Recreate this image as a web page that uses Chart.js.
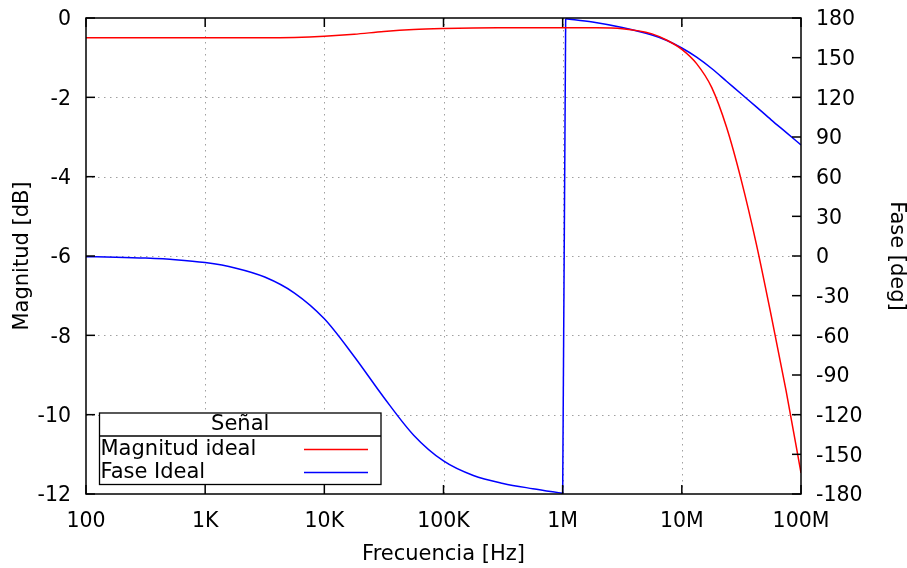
<!DOCTYPE html>
<html>
<head>
<meta charset="utf-8">
<script src="https://cdn.jsdelivr.net/npm/chart.js@4"></script>
<style>
  html, body { margin: 0; padding: 0; background: #ffffff; }
  #wrap { width: 907px; height: 568px; }
</style>
</head>
<body>
<div id="wrap"><canvas id="bode" width="907" height="568"></canvas></div>
<script>
// Respuesta en frecuencia del filtro (muestras en Hz)
const frecuencias = [
  100, 178, 316, 562,
  1e3, 1.78e3, 3.16e3, 5.62e3,
  1e4, 1.78e4, 3.16e4, 5.62e4,
  1e5, 1.78e5, 3.16e5, 5.62e5,
  1e6, 1.06e6, 1.78e6, 3.16e6, 5.62e6, 7.5e6,
  1e7, 1.33e7, 1.78e7, 2.37e7, 3.16e7, 4.22e7, 5.62e7, 7.5e7,
  1e8
];

// Magnitud [dB]
const magnitudIdeal = [
  -0.5, -0.5, -0.5, -0.5,
  -0.5, -0.5, -0.5, -0.49,
  -0.46, -0.41, -0.34, -0.29,
  -0.265, -0.252, -0.247, -0.245,
  -0.245, -0.245, -0.247, -0.27, -0.4, -0.56,
  -0.79, -1.15, -1.75, -2.75, -4.1, -5.7, -7.5, -9.4,
  -11.47
];

// Fase [deg], envuelta en (-180, 180]
const faseIdeal = [
  -0.5, -0.9, -1.6, -2.8,
  -5.0, -9.0, -15.9, -28,
  -47.5, -76, -107, -135.5,
  -155, -166, -172, -176,
  -179.5, 179.5, 177, 172.8, 167.1, 163,
  157.3, 150.4, 141.8, 132.2, 122.5, 112.8, 103, 93.5,
  84
];

const decadas = [1e2, 1e3, 1e4, 1e5, 1e6, 1e7, 1e8];
const etiquetasFrecuencia = ['100', '1K', '10K', '100K', '1M', '10M', '100M'];
const ticksMagnitud = [-12, -10, -8, -6, -4, -2, 0];
const ticksFase = [-180, -150, -120, -90, -60, -30, 0, 30, 60, 90, 120, 150, 180];

const FUENTE = "'DejaVu Sans', 'Liberation Sans', sans-serif";
const TAM_TICK = 20.5;
const TAM_TEXTO = 21;
const ROJO = '#ff0000';
const AZUL = '#0000ff';

// Rejilla punteada, marco, marcas interiores y leyenda con título
const marcoGnuplot = {
  id: 'marcoGnuplot',
  beforeDatasetsDraw(chart) {
    const { ctx, chartArea: a, scales } = chart;
    ctx.save();
    ctx.strokeStyle = '#a0a0a0';
    ctx.lineWidth = 1;
    ctx.setLineDash([1.5, 4.5]);
    decadas.slice(1, -1).forEach(v => {
      const x = Math.round(scales.x.getPixelForValue(v)) + 0.5;
      ctx.beginPath(); ctx.moveTo(x, a.top); ctx.lineTo(x, a.bottom); ctx.stroke();
    });
    ticksMagnitud.slice(1, -1).forEach(v => {
      const y = Math.round(scales.y.getPixelForValue(v)) + 0.5;
      ctx.beginPath(); ctx.moveTo(a.left, y); ctx.lineTo(a.right, y); ctx.stroke();
    });
    ctx.restore();
  },
  afterDatasetsDraw(chart) {
    const { ctx, chartArea: a, scales } = chart;
    const L = 9;
    ctx.save();
    ctx.strokeStyle = '#000000';
    ctx.lineWidth = 1.5;
    ctx.setLineDash([]);
    // marcas del eje de frecuencia (abajo y arriba)
    decadas.forEach(v => {
      const x = scales.x.getPixelForValue(v);
      ctx.beginPath();
      ctx.moveTo(x, a.bottom); ctx.lineTo(x, a.bottom - L);
      ctx.moveTo(x, a.top); ctx.lineTo(x, a.top + L);
      ctx.stroke();
    });
    // marcas de magnitud (izquierda)
    ticksMagnitud.forEach(v => {
      const y = scales.y.getPixelForValue(v);
      ctx.beginPath(); ctx.moveTo(a.left, y); ctx.lineTo(a.left + L, y); ctx.stroke();
    });
    // marcas de fase (derecha)
    ticksFase.forEach(v => {
      const y = scales.y2.getPixelForValue(v);
      ctx.beginPath(); ctx.moveTo(a.right, y); ctx.lineTo(a.right - L, y); ctx.stroke();
    });
    // marco
    ctx.strokeRect(a.left, a.top, a.right - a.left, a.bottom - a.top);

    // leyenda (sólo las series con nombre)
    const series = chart.data.datasets.filter(ds => ds.label);
    const bx = 99.5, by = 413, bw = 281.5, bh = 71.5, sep = 436;
    ctx.fillStyle = '#ffffff';
    ctx.fillRect(bx, by, bw, bh);
    ctx.lineWidth = 1.3;
    ctx.strokeRect(bx, by, bw, bh);
    ctx.beginPath(); ctx.moveTo(bx, sep); ctx.lineTo(bx + bw, sep); ctx.stroke();
    ctx.fillStyle = '#000000';
    ctx.font = TAM_TEXTO + 'px ' + FUENTE;
    ctx.textBaseline = 'middle';
    ctx.textAlign = 'center';
    ctx.fillText('Señal', bx + bw / 2, 425);
    ctx.textAlign = 'left';
    const filas = [449.5, 472.5];
    series.forEach((ds, i) => {
      ctx.fillStyle = '#000000';
      ctx.fillText(ds.label, 100.5, filas[i]);
      ctx.strokeStyle = ds.borderColor;
      ctx.lineWidth = 1.5;
      ctx.beginPath(); ctx.moveTo(304, filas[i]); ctx.lineTo(368, filas[i]); ctx.stroke();
    });
    ctx.restore();
  }
};

const puntos = (vals, desde = 0, hasta = frecuencias.length) =>
  frecuencias.slice(desde, hasta).map((f, i) => ({ x: f, y: vals[desde + i] }));

// la fase salta de -180 a +180 justo después de 1 MHz
const iSalto = faseIdeal.findIndex((v, i) => i > 0 && v - faseIdeal[i - 1] > 180);

// ejes verticales de ancho fijo, sin margen extra por las etiquetas extremas
const anchoFijo = w => s => { s.width = w; s.paddingTop = 0; s.paddingBottom = 0; };

const linea = (extra) => Object.assign({
  borderWidth: 1.5,
  pointRadius: 0,
  fill: false,
  cubicInterpolationMode: 'monotone'
}, extra);

new Chart(document.getElementById('bode'), {
  type: 'line',
  data: {
    datasets: [
      linea({ label: 'Magnitud ideal', data: puntos(magnitudIdeal), yAxisID: 'y', borderColor: ROJO }),
      linea({ label: 'Fase Ideal', data: puntos(faseIdeal, 0, iSalto), yAxisID: 'y2', borderColor: AZUL }),
      linea({ label: '', data: puntos(faseIdeal, iSalto - 1, iSalto + 1), yAxisID: 'y2', borderColor: AZUL, cubicInterpolationMode: 'default', tension: 0 }),
      linea({ label: '', data: puntos(faseIdeal, iSalto), yAxisID: 'y2', borderColor: AZUL })
    ]
  },
  options: {
    responsive: false,
    animation: false,
    devicePixelRatio: 1,
    layout: { padding: { top: 18, left: 0, right: 0, bottom: 0 } },
    plugins: { legend: { display: false }, tooltip: { enabled: false } },
    scales: {
      x: {
        type: 'logarithmic',
        position: 'bottom',
        min: 100,
        max: 1e8,
        afterBuildTicks: s => { s.ticks = decadas.map(v => ({ value: v })); },
        afterFit: s => { s.height = 74; },
        grid: { display: false, drawTicks: false },
        border: { display: false },
        ticks: {
          autoSkip: false, maxRotation: 0, padding: 15, color: '#000000',
          font: { family: FUENTE, size: TAM_TICK },
          callback: v => etiquetasFrecuencia[decadas.indexOf(v)] ?? ''
        },
        title: {
          display: true, text: 'Frecuencia [Hz]', color: '#000000',
          font: { family: FUENTE, size: TAM_TEXTO, lineHeight: 1 },
          padding: { top: 0, bottom: 3 }
        }
      },
      y: {
        type: 'linear',
        position: 'left',
        min: -12,
        max: 0,
        afterBuildTicks: s => { s.ticks = ticksMagnitud.map(v => ({ value: v })); },
        afterFit: anchoFijo(86),
        grid: { display: false, drawTicks: false },
        border: { display: false },
        ticks: {
          autoSkip: false, padding: 15, labelOffset: 2, color: '#000000',
          font: { family: FUENTE, size: TAM_TICK },
          callback: v => String(v)
        },
        title: {
          display: true, text: 'Magnitud [dB]', color: '#000000',
          font: { family: FUENTE, size: TAM_TEXTO, lineHeight: 1 },
          padding: { top: 12, bottom: 0 }
        }
      },
      y2: {
        type: 'linear',
        position: 'right',
        min: -180,
        max: 180,
        afterBuildTicks: s => { s.ticks = ticksFase.map(v => ({ value: v })); },
        afterFit: anchoFijo(106),
        grid: { display: false, drawTicks: false },
        border: { display: false },
        ticks: {
          autoSkip: false, padding: 15, labelOffset: 2, color: '#000000',
          font: { family: FUENTE, size: TAM_TICK },
          callback: v => String(v)
        },
        title: {
          display: true, text: 'Fase [deg]', color: '#000000',
          font: { family: FUENTE, size: TAM_TEXTO, lineHeight: 1 },
          padding: { top: 0, bottom: 0 }
        }
      }
    }
  },
  plugins: [marcoGnuplot]
});
</script>
</body>
</html>
